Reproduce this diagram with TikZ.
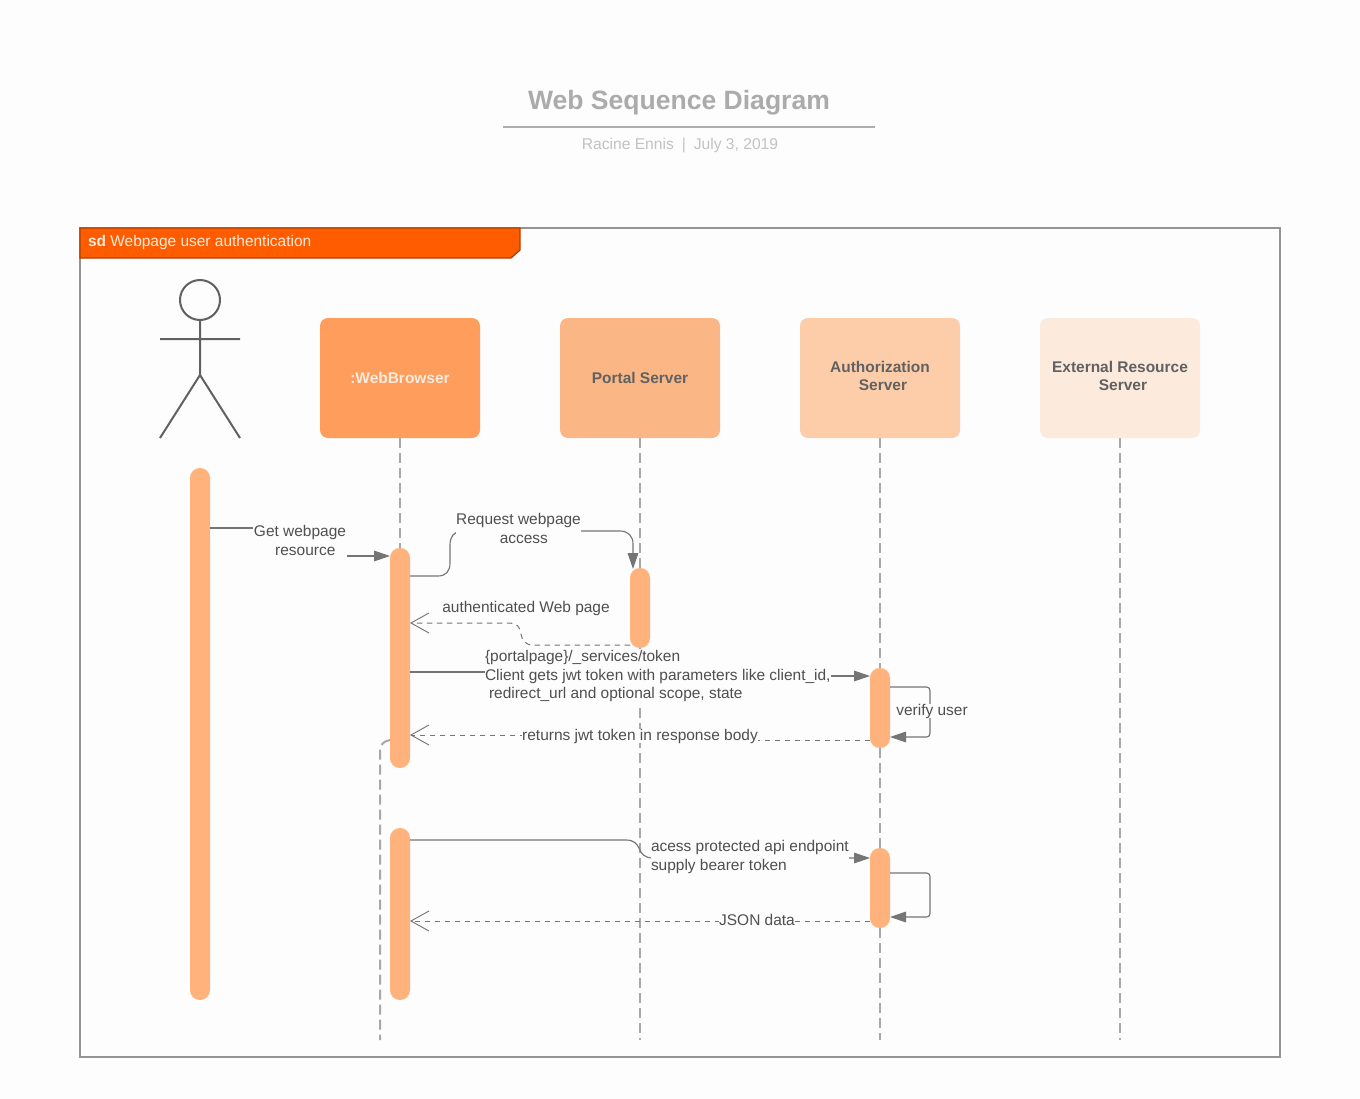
\documentclass[tikz,border=0pt]{standalone}
\usepackage{fontspec}
\setmainfont{Liberation Sans}
\usetikzlibrary{arrows.meta,calc}
\definecolor{bgc}{HTML}{FDFDFD}
\definecolor{txt}{HTML}{4F4F4F}
\definecolor{conn}{HTML}{757575}
\definecolor{life}{HTML}{A8A8A8}
\definecolor{actc}{HTML}{FFB27C}
\definecolor{headc}{HTML}{FF5C00}
\definecolor{hweb}{RGB}{255,157,92}
\definecolor{hportal}{RGB}{251,182,133}
\definecolor{hauth}{RGB}{253,205,170}
\definecolor{hext}{RGB}{252,235,220}
\definecolor{pale}{HTML}{FDEBDD}
\tikzset{
  x=0.75pt,y=-0.75pt,
  every node/.style={font=\fontsize{11.6pt}{13.9pt}\selectfont,text=txt,inner sep=0pt,outer sep=0pt},
  head/.style={rounded corners=6pt,minimum width=120pt,minimum height=90pt,align=center,font=\fontsize{11.6pt}{13.4pt}\selectfont\bfseries},
  headtext/.style={align=center,font=\fontsize{11.6pt}{13.6pt}\selectfont\bfseries,text=black!62},
  activation/.style={fill=actc,rounded corners=7.4pt,minimum width=15pt},
  lifeline/.style={draw=life,line width=1.5pt,dash pattern=on 7.5pt off 3.75pt},
  msg/.style={draw=conn,line width=0.85pt,-{Triangle[length=12pt,width=8pt,fill=conn]}},
  reply/.style={draw=conn,line width=0.75pt,dash pattern=on 4pt off 3.5pt,-{Straight Barb[length=13.5pt,width=15pt,line width=0.7pt]}},
  lbl/.style={fill=bgc,align=left},
}
\begin{document}
\begin{tikzpicture}
\useasboundingbox (0,0) rectangle (1360,1099);
\fill[bgc] (0,0) rectangle (1360,1099);

% title
\node[font=\fontsize{19.9pt}{24pt}\selectfont\bfseries,text=black!33] (title) at (679,103) {Web Sequence Diagram};
\coordinate (ruleL) at (503,127);
\coordinate (ruleR) at (875,127);
\draw[draw=black!32,line width=1.5pt] (ruleL) -- (ruleR);
\node[font=\fontsize{11.7pt}{14pt}\selectfont,text=black!24] (sub) at (680,146) {Racine Ennis\hspace{6pt}|\hspace{6pt}July 3, 2019};

% frame
\draw[draw=black!42,line width=1pt] (80,228) rectangle (1280,1057);
\draw[fill=headc,draw=black!30!headc,line width=1pt] (80,228) -- (520,228) -- (520,250) -- (511,258) -- (80,258) -- cycle;
\node[anchor=west,text=pale] (frameT) at (88,242) {\textbf{sd} Webpage user authentication};

% actor
\draw[draw=black!62,line width=1.5pt] (200,300) circle[radius=20];
\draw[draw=black!62,line width=1.5pt] (200,320) -- (200,375) (160,339) -- (240,339) (160,438) -- (200,375) -- (240,438);

% heads
\node[head,fill=hweb,text=pale] (web) at (400,378) {:WebBrowser};
\node[head,fill=hportal,text=black!62] (portal) at (640,378) {Portal Server};
\node[head,fill=hauth] (auth) at (880,378) {};
\node[head,fill=hext] (ext) at (1120,378) {};

% activation bars
\node[activation,minimum height=399pt] (a0) at (200,734) {};
\node[activation,minimum height=165pt] (a1) at (400,658) {};
\node[activation,minimum height=60pt] (a2) at (640,608) {};
\node[activation,minimum height=60pt] (a3) at (880,708) {};
\node[activation,minimum height=129pt] (a4) at (400,914) {};
\node[activation,minimum height=60pt] (a5) at (880,888) {};

% lifeline ends
\coordinate (e1) at (380,1040);
\coordinate (e2) at (640,1040);
\coordinate (e3) at (880,1040);
\coordinate (e4) at (1120,1040);

% lifelines
\path[lifeline] (web.south) -- (a1.north);
\path[lifeline] (portal.south) -- (a2.north);
\path[lifeline] (a2.south) -- (e2);
\path[lifeline] (auth.south) -- (a3.north);
\path[lifeline] (a3.south) -- (a5.north);
\path[lifeline] (a5.south) -- (e3);
\path[lifeline] (ext.south) -- (e4);
\path[lifeline] (a1.west |- 0,740) .. controls (384,741) and (380,744) .. (380,752) -- (e1);

% messages
\path[msg] (a0.east |- 0,528) -- (300,528) -- (300,556) -- (a1.west |- 0,556);
\path[msg] (a1.east |- 0,576) -- (438,576) .. controls (446,576) and (450,571) .. (450,563) -- (450,545) .. controls (450,537) and (454,531) .. (462,531) -- (620,531) .. controls (628,531) and (633,536) .. (633,544) -- (633,569);
\path[reply] (a2.west |- 0,645) -- (533,645) .. controls (525,645) and (522,640) .. (521,634) .. controls (520,627) and (517,623) .. (510,623) -- (a1.east |- 0,623);
\path[msg] (a1.east |- 0,672) -- (650,672) -- (650,676) -- (a3.west |- 0,676);
\path[msg,rounded corners=2.5pt] (a3.east |- 0,687) -- (930,687) -- (930,737) -- (a3.east |- 0,737);
\path[reply] (a3.west |- 0,740) -- (640,740) -- (640,735) -- (a1.east |- 0,735);
\path[msg] (a4.east |- 0,840) -- (626,840) .. controls (634,840) and (637,844) .. (639,848) .. controls (641,854) and (645,858) .. (653,858) -- (a5.west |- 0,858);
\path[msg,rounded corners=2.5pt] (a5.east |- 0,873) -- (930,873) -- (930,917) -- (a5.east |- 0,917);
\path[reply] (a5.west |- 0,921) -- (a4.east |- 0,921);

% labels
\node[headtext] (authT) at (880,376) {Authorization\\\hspace{4.5pt}Server};
\node[headtext] (extT) at (1120,376) {External Resource\\\hspace{4.5pt}Server};
\node[lbl,align=center,inner xsep=0.5pt,inner ysep=4pt] (l1) at (300,540.5) {Get webpage\\\hspace{8pt}resource};
\node[lbl,align=center] (l2) at (518.5,528.5) {Request webpage\\\hspace{8pt}access};
\node[lbl] (l3) at (526,608) {authenticated Web page};
\node[lbl,anchor=west,inner ysep=1pt] (l4) at (485,676) {\{portalpage\}/\_services/token\\Client gets jwt token with parameters like client\_id,\\\hspace{3pt}redirect\_url and optional scope, state};
\node[lbl,inner xsep=1pt] (l5) at (932,711) {verify user};
\node[lbl,inner xsep=0.5pt] (l6) at (640,736) {returns jwt token in response body};
\node[lbl,anchor=west,inner ysep=1pt] (l7) at (651,857) {acess protected api endpoint\\supply bearer token};
\node[lbl] (l8) at (757,919.5) {JSON data};
\end{tikzpicture}
\end{document}
